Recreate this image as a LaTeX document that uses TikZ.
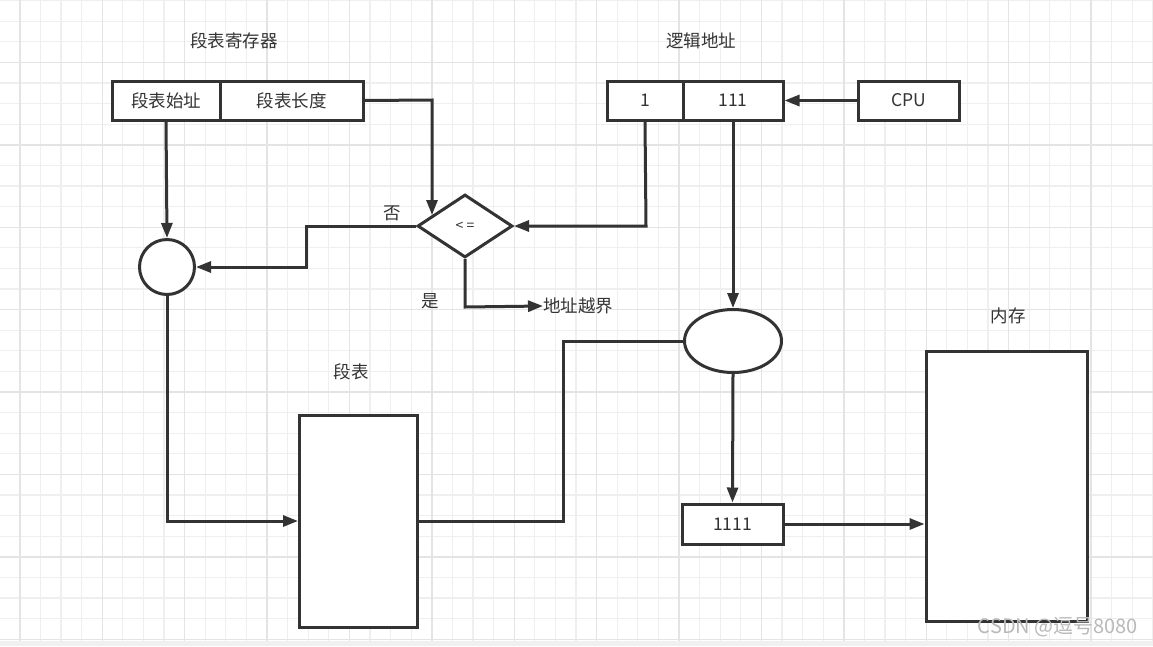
\documentclass[tikz,border=0pt]{standalone}
\usepackage{fontspec}
\setmainfont{Noto Sans CJK SC}
\usetikzlibrary{arrows.meta,shapes.geometric}
\definecolor{ink}{HTML}{333333}
\definecolor{gridminor}{HTML}{EFEFEF}
\definecolor{gridmajor}{HTML}{E4E4E4}
\tikzset{
  line/.style={draw=ink,line width=3pt},
  arr/.style={line,-{Triangle[length=15pt,width=11pt]}},
  box/.style={draw=ink,line width=3pt,fill=white,rectangle,inner sep=0pt,
    text=ink,font=\fontsize{17.5}{20}\selectfont},
  lbl/.style={text=ink,font=\fontsize{17.5}{20}\selectfont,inner sep=0pt},
}
\begin{document}
\begin{tikzpicture}[x=1pt,y=-1pt]
\useasboundingbox (0,0) rectangle (1153,646);
\fill[white] (0,0) rectangle (1153,646);
% grid
\foreach \i in {0,...,56}{
  \draw[gridminor,line width=1.3pt] ({19.8+20.6*(\i-1)},0) -- ({19.8+20.6*(\i-1)},641);
}
\foreach \i in {0,...,32}{
  \draw[gridminor,line width=1.3pt] (0,{0.6+20.6*\i}) -- (1153,{0.6+20.6*\i});
}
\foreach \i in {0,...,14}{
  \draw[gridmajor,line width=1.4pt] ({19.8+82.4*\i},0) -- ({19.8+82.4*\i},641);
}
\foreach \i in {0,...,7}{
  \draw[gridmajor,line width=1.4pt] (0,{62.4+82.4*\i}) -- (1153,{62.4+82.4*\i});
}
\fill[gray!12] (0,641) rectangle (1153,646);

% labels
\node[lbl] (tregl) at (234,41) {段表寄存器};
\node[lbl] (laddrl) at (701,41) {逻辑地址};
\node[lbl] (segl) at (351,372) {段表};
\node[lbl] (meml) at (1008,316) {内存};

% register
\node[box,minimum width=108pt,minimum height=39pt] (base) at (166,100.5) {段表始址};
\node[box,minimum width=143pt,minimum height=39pt] (len) at (291.5,100.5) {段表长度};
% logical address
\node[box,minimum width=76pt,minimum height=39pt] (seg) at (645,100.5) {1};
\node[box,minimum width=100pt,minimum height=39pt] (off) at (733,100.5) {111};
\node[box,minimum width=101pt,minimum height=39pt] (cpu) at (908.5,100.5) {CPU};

% compare diamond
\node[draw=ink,line width=3pt,fill=white,diamond,aspect=1.5,inner sep=0pt,
  minimum width=95pt,minimum height=63pt,text=ink,
  font=\fontsize{14}{16}\selectfont] (cmp) at (465,226) {<\hspace{3pt}=};
% adder circle
\node[draw=ink,line width=3pt,fill=white,circle,minimum size=55pt,inner sep=0pt] (add) at (167,267) {};
% ellipse
\node[draw=ink,line width=3pt,fill=white,ellipse,minimum width=97pt,minimum height=63pt,inner sep=0pt] (join) at (733,341) {};
% segment table
\node[box,minimum width=118pt,minimum height=212pt] (stab) at (358.5,521) {};
% physical address
\node[box,minimum width=101pt,minimum height=40pt] (phys) at (732.5,524) {1111};
% memory
\node[box,minimum width=161pt,minimum height=270pt] (mem) at (1006.5,486) {};

% out-of-range label
\node[lbl,anchor=west] (oob) at (543,306) {地址越界};
\node[lbl] (no) at (392,213) {否};
\node[lbl] (yes) at (430,301) {是};

% connectors
\draw[arr] (len.east) -- (432,100) -- (432,215);
\draw[arr] (base.south) -- (add.north);
\draw[arr] (cmp.west) -- (306,226) -- (306,267) -- (add.east);
\draw[arr] (seg.south) -- (646,226) -- (cmp.east);
\draw[arr] (cmp.south) -- (465,307) -- (oob.west);
\draw[arr] (cpu.west) -- (off.east);
\draw[arr] (off.south) -- (join.north);
\draw[arr] (add.south) -- (167,521) -- (stab.west);
\draw[line] (stab.east) -- (563.5,521) -- (563.5,341) -- (join.west);
\draw[arr] (join.south) -- (phys.north);
\draw[arr] (phys.east) -- (mem.west |- phys.east);

% watermark
\node[text=gray!55,font=\fontsize{20}{22}\selectfont,inner sep=0pt] (wm) at (1058,627) {CSDN @逗号8080};
\end{tikzpicture}
\end{document}
